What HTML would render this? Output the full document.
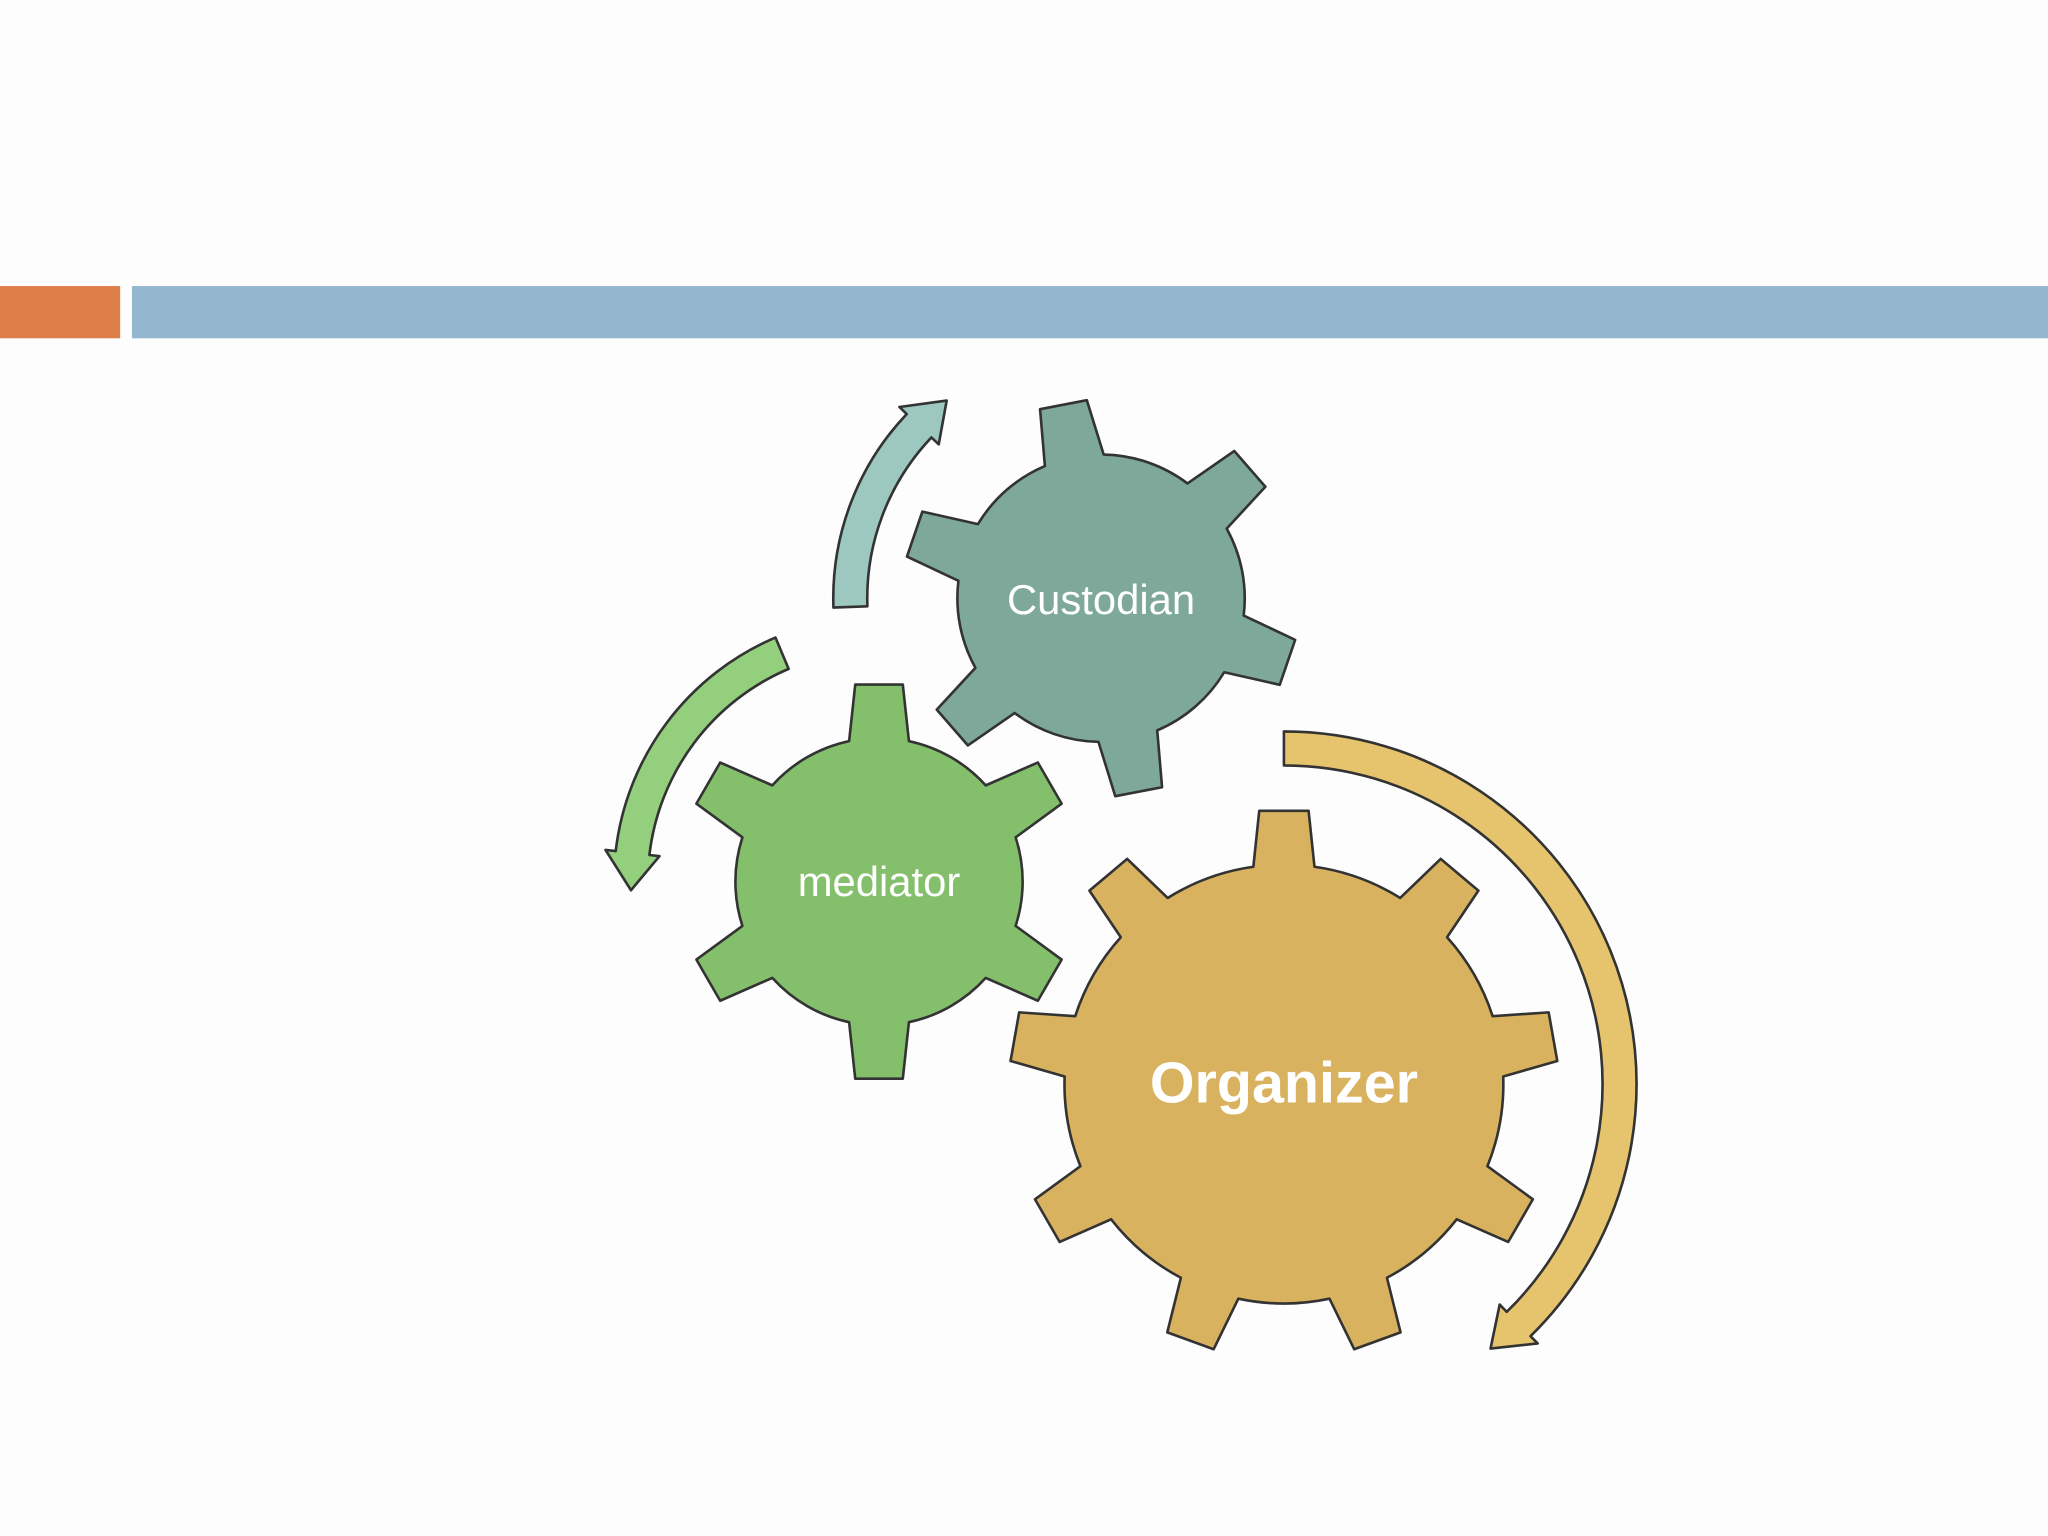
<!DOCTYPE html>
<html><head><meta charset="utf-8"><style>
html,body{margin:0;padding:0;background:#fdfdfd;}
svg{display:block;}
text{font-family:"Liberation Sans",sans-serif;fill:#fff;text-anchor:middle;}
</style></head><body>
<svg id="s" width="2048" height="1536" viewBox="0 0 1568 1176" xmlns="http://www.w3.org/2000/svg">
<rect x="0" y="0" width="1568" height="1176" fill="#fdfdfd"/>
<rect x="0" y="219" width="92" height="40" fill="#df7f48"/>
<rect x="101" y="219" width="1467" height="40" fill="#94b7d0"/>
<g id="g"></g>
<text x="843" y="470" font-size="32">Custodian</text>
<text x="673" y="686" font-size="32">mediator</text>
<text x="983" y="844" font-size="44" font-weight="bold">Organizer</text>
</svg>
<script>
var g=document.getElementById('g'),NS='http://www.w3.org/2000/svg';
function el(n,a){var e=document.createElementNS(NS,n);for(var k in a)e.setAttribute(k,a[k]);g.appendChild(e);return e;}
function gear(cx,cy,N,off,rb,rt,hb,ht,fill){
  var d='',R=Math.PI/180;
  function P(r,a){return (cx+r*Math.cos(a)).toFixed(1)+','+(cy+r*Math.sin(a)).toFixed(1);}
  for(var i=0;i<N;i++){
    var a=(off+i*360/N)*R;
    d+=(i?'L':'M')+P(rb,a-hb)+'L'+P(rt,a-ht)+'L'+P(rt,a+ht)+'L'+P(rb,a+hb);
    var nx=(off+(i+1)*360/N)*R-hb;
    d+='A'+rb+','+rb+' 0 0 1 '+P(rb,nx);
  }
  d+='Z';
  el('path',{d:d,fill:fill,stroke:'#333',"stroke-width":2,"stroke-linejoin":"round"});
}
function arc(cx,cy,r,a0,a1,w,fill){
  var R=Math.PI/180,dir=a1>a0?1:-1;
  var headA=(w*1.1/r)/R*dir;
  var ab=a1-headA;
  function P(rr,a){return (cx+rr*Math.cos(a*R)).toFixed(1)+','+(cy+rr*Math.sin(a*R)).toFixed(1);}
  var ro=r+w/2,ri=r-w/2,sw=dir>0?1:0,large=Math.abs(ab-a0)>180?1:0;
  var d='M'+P(ro,a0)+'A'+ro+','+ro+' 0 '+large+' '+sw+' '+P(ro,ab)+
   'L'+P(r+w*0.8,ab)+'L'+P(r,a1)+'L'+P(r-w*0.8,ab)+'L'+P(ri,ab)+
   'A'+ri+','+ri+' 0 '+large+' '+(1-sw)+' '+P(ri,a0)+'Z';
  el('path',{d:d,fill:fill,stroke:'#333',"stroke-width":2,"stroke-linejoin":"round"});
}
arc(843,458,192,178,232,26,'#9cc8c0');
arc(673,675,190,-113,-182,26,'#94cf7e');
arc(983,830,257,-90,52,26,'#e6c46e');
gear(843,458,6,-101,110,152,0.21,0.12,'#7ea89a');
gear(673,675,6,-90,110,152,0.21,0.12,'#84c06c');
gear(983,830,9,-90,168,210,0.14,0.09,'#d9b25f');
</script>
</body></html>
